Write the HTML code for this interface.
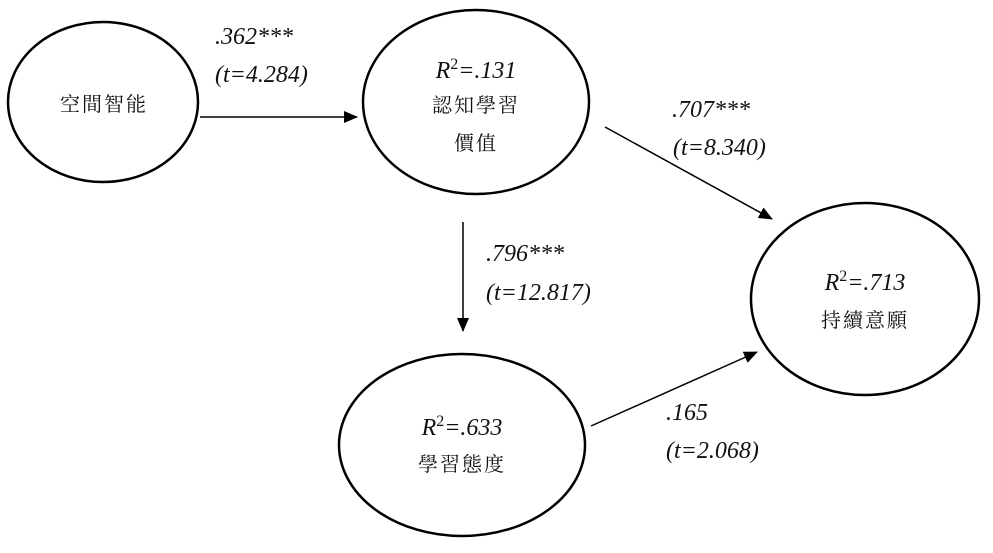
<!DOCTYPE html>
<html><head><meta charset="utf-8"><style>
html,body{margin:0;padding:0;background:#fff;}
svg{display:block;}
.l{font-family:"Liberation Serif",serif;font-style:italic;font-size:24px;fill:#111;}
.c{font-family:"Liberation Serif","Noto Serif CJK SC","Noto Sans CJK TC",serif;font-size:20px;fill:#111;letter-spacing:2px;}
</style></head><body>
<svg width="993" height="553" viewBox="0 0 993 553" xmlns="http://www.w3.org/2000/svg">
<defs><marker id="b" markerWidth="14" markerHeight="12" refX="13" refY="6" orient="auto" markerUnits="userSpaceOnUse"><path d="M0,0 L14,6 L0,12 z" fill="#000"/></marker></defs>
<g fill="none" stroke="#000" stroke-width="2.5">
<ellipse cx="103" cy="102" rx="95" ry="80"/>
<ellipse cx="476" cy="102" rx="113" ry="92"/>
<ellipse cx="865" cy="299" rx="114" ry="96"/>
<ellipse cx="462" cy="445" rx="123" ry="91"/>
</g>
<g stroke="#000" stroke-width="1.5">
<line x1="200" y1="117" x2="357" y2="117" marker-end="url(#b)"/>
<line x1="463" y1="222" x2="463" y2="331" marker-end="url(#b)"/>
<line x1="605" y1="127" x2="772" y2="219" marker-end="url(#b)"/>
<line x1="591" y1="426" x2="757" y2="352" marker-end="url(#b)"/>
</g>
<text class="c" x="104" y="111" text-anchor="middle">空間智能</text>
<text class="l" x="476" y="78" text-anchor="middle">R<tspan dy="-9" font-size="16" font-style="normal">2</tspan><tspan dy="9">=.131</tspan></text>
<text class="c" x="476" y="112" text-anchor="middle">認知學習</text>
<text class="c" x="476" y="150" text-anchor="middle">價值</text>
<text class="l" x="865" y="290" text-anchor="middle">R<tspan dy="-9" font-size="16" font-style="normal">2</tspan><tspan dy="9">=.713</tspan></text>
<text class="c" x="865" y="327" text-anchor="middle">持續意願</text>
<text class="l" x="462" y="435" text-anchor="middle">R<tspan dy="-9" font-size="16" font-style="normal">2</tspan><tspan dy="9">=.633</tspan></text>
<text class="c" x="462" y="471" text-anchor="middle">學習態度</text>
<text class="l" x="215" y="44">.362***</text>
<text class="l" x="215" y="82">(t=4.284)</text>
<text class="l" x="672" y="117">.707***</text>
<text class="l" x="673" y="155">(t=8.340)</text>
<text class="l" x="486" y="261">.796***</text>
<text class="l" x="486" y="300">(t=12.817)</text>
<text class="l" x="666" y="420">.165</text>
<text class="l" x="666" y="458">(t=2.068)</text>
</svg>
</body></html>
